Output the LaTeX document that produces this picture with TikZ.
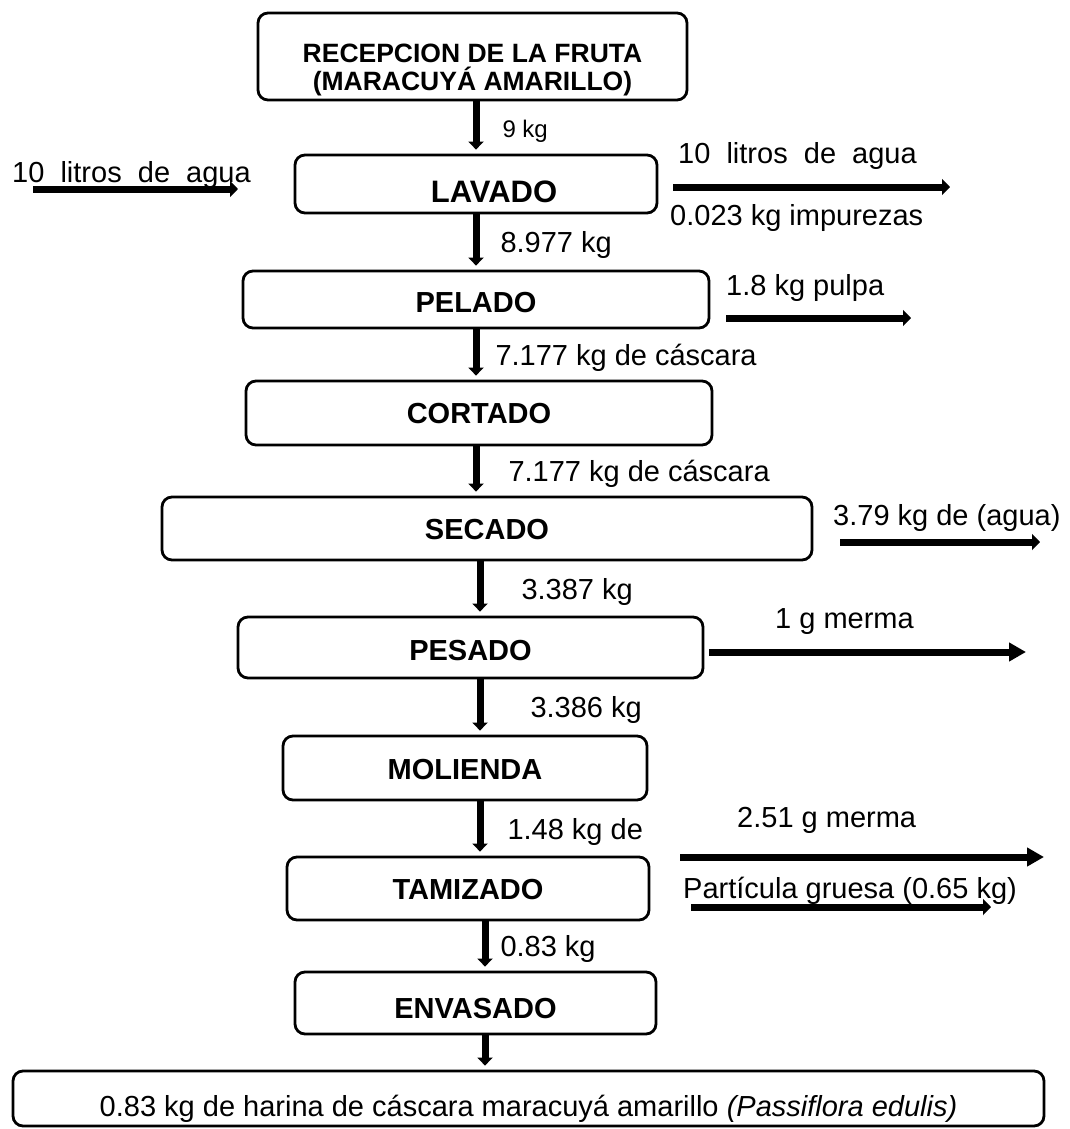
\documentclass[tikz,border=0pt]{standalone}
\usepackage{fontspec}
\setmainfont{Liberation Sans}
\usetikzlibrary{arrows.meta,positioning}

\begin{document}
\begin{tikzpicture}[x=1pt,y=-1pt]
  \tikzstyle{etapa}=[draw,rounded corners=10pt,line width=2.8pt,inner sep=0pt,
                     text height=21pt,text depth=0pt,
                     font=\bfseries\fontsize{29}{34}\selectfont]
  \tikzstyle{dato}=[anchor=base west,inner sep=0pt,font=\fontsize{29}{34}\selectfont]
  \tikzstyle{etiq}=[anchor=west,inner sep=0pt,text height=21pt,text depth=0pt,
                    font=\fontsize{29}{34}\selectfont]
  \tikzstyle{flujo}=[line width=7pt,-{Triangle[length=8pt,width=15pt]},shorten >=4pt]
  \tikzstyle{salida}=[line width=7pt,-{Triangle[length=8pt,width=16pt]}]
  \tikzstyle{merma}=[line width=7pt,-{Triangle[length=17pt,width=18pt]}]

  \useasboundingbox (0,0) rectangle (1069,1129);

  % etapas del proceso
  \node[etapa,minimum width=429pt,minimum height=87pt] (REC) at (472.5,56.5) {};
  \node[align=center,inner sep=0pt,font=\bfseries\fontsize{26.5}{28}\selectfont]
       (RECt) at (472.5,70) {RECEPCION DE LA FRUTA\\(MARACUYÁ AMARILLO)};
  \node[etapa,minimum width=362pt,minimum height=58pt,text height=36pt,
        font=\bfseries\fontsize{31}{36}\selectfont] (LAV) at (476,184) {\hspace*{36pt}LAVADO};
  \node[etapa,minimum width=466pt,minimum height=57pt,text height=26pt] (PEL) at (476,299.5) {PELADO};
  \node[etapa,minimum width=466pt,minimum height=64pt] (COR) at (479,413) {CORTADO};
  \node[etapa,minimum width=650pt,minimum height=63pt] (SEC) at (487,528.5) {SECADO};
  \node[etapa,minimum width=465pt,minimum height=61pt,text height=25pt] (PES) at (470.5,647.5) {PESADO};
  \node[etapa,minimum width=364pt,minimum height=64pt,text height=23pt] (MOL) at (465,768) {MOLIENDA};
  \node[etapa,minimum width=362pt,minimum height=63pt] (TAM) at (468,888.5) {TAMIZADO};
  \node[etapa,minimum width=361pt,minimum height=62pt,text height=31pt] (ENV) at (475.5,1003) {ENVASADO};
  \node[etapa,minimum width=1031pt,minimum height=55pt,text height=35pt,
        font=\fontsize{29}{34}\selectfont] (FIN) at (528.5,1098.5)
       {0.83 kg de harina de cáscara maracuyá amarillo \textit{(Passiflora edulis)}};

  % ejes de las flechas verticales
  \coordinate (ejeA) at (476,0);
  \coordinate (ejeB) at (480,0);
  \coordinate (ejeC) at (485,0);

  \path[flujo]
    (REC.south -| ejeA) edge node[etiq,xshift=23pt,font=\fontsize{24}{28}\selectfont] {9 kg} (LAV.north -| ejeA)
    (LAV.south -| ejeA) edge node[etiq,xshift=21pt] {8.977 kg} (PEL.north -| ejeA)
    (PEL.south -| ejeA) edge node[etiq,xshift=16pt] {7.177 kg de cáscara} (COR.north -| ejeA)
    (COR.south -| ejeA) edge node[etiq,xshift=29pt] {7.177 kg de cáscara} (SEC.north -| ejeA)
    (SEC.south -| ejeB) edge node[etiq,xshift=38pt] {3.387 kg} (PES.north -| ejeB)
    (PES.south -| ejeB) edge node[etiq,xshift=47pt] {3.386 kg} (MOL.north -| ejeB)
    (MOL.south -| ejeB) edge node[etiq,xshift=24pt] {1.48 kg de} (TAM.north -| ejeB)
    (TAM.south -| ejeC) edge node[etiq,xshift=12pt] {0.83 kg} (ENV.north -| ejeC)
    (ENV.south -| ejeC) edge (FIN.north -| ejeC);

  % entradas y salidas
  \node[dato] (aguaIn)  at (12,182)  {10\ \ litros\ \ de\ \ agua};
  \node[dato] (aguaOut) at (678,163) {10\ \ litros\ \ de\ \ agua};
  \node[dato] (impur)   at (670,225) {0.023 kg impurezas};
  \node[dato] (pulpa)   at (726,295) {1.8 kg pulpa};
  \node[dato] (aguaSec) at (833,525) {3.79 kg de (agua)};
  \node[dato] (merma1)  at (775,628) {1 g merma};
  \node[dato] (merma2)  at (737,827) {2.51 g merma};
  \node[dato] (gruesa)  at (683,898) {Partícula gruesa (0.65 kg)};

  \coordinate (ea1) at (33,189);  \coordinate (ea2) at (238,189);
  \coordinate (sa1) at (673,187); \coordinate (sa2) at (950,187);
  \coordinate (sp1) at (726,318); \coordinate (sp2) at (911,318);
  \coordinate (ss1) at (840,542); \coordinate (ss2) at (1040,542);
  \coordinate (sm1) at (709,652); \coordinate (sm2) at (1026,652);
  \coordinate (st1) at (680,857); \coordinate (st2) at (1044,857);
  \coordinate (sg1) at (691,907); \coordinate (sg2) at (991,907);

  \draw[salida] (ea1) -- (ea2);
  \draw[salida] (sa1) -- (sa2);
  \draw[salida] (sp1) -- (sp2);
  \draw[salida] (ss1) -- (ss2);
  \draw[merma]  (sm1) -- (sm2);
  \draw[merma]  (st1) -- (st2);
  \draw[salida] (sg1) -- (sg2);
\end{tikzpicture}
\end{document}
